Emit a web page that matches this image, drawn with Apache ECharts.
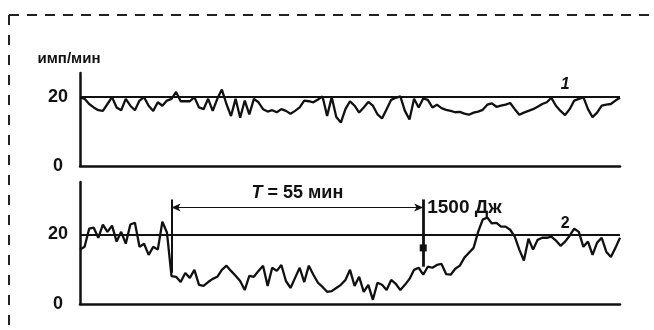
<!DOCTYPE html>
<html>
<head>
<meta charset="utf-8">
<script src="https://cdn.jsdelivr.net/npm/echarts@6/dist/echarts.min.js"></script>
<style>
  html, body { margin: 0; padding: 0; background: #fff; }
  #chart { width: 654px; height: 330px; }
</style>
</head>
<body>
<div id="chart"></div>
<script>
// Count rate records (pulses per minute), one sample per minute
const recordMinutes = 118;
const rate1 = [
  20, 19.5, 18, 17, 16.2, 16, 18, 20, 17, 16.2,
  19.5, 17.5, 16.2, 19, 20, 17.5, 16, 18.5, 17.5, 19,
  19.5, 21.5, 18.8, 18.8, 18.8, 20, 17, 16.5, 19.5, 16,
  19.5, 22.2, 18, 14.5, 19.5, 14, 19, 15, 19.5, 18.5,
  16.5, 15.8, 16.2, 15.6, 16.5, 16, 15.2, 16, 17, 19,
  18.8, 18.5, 19.3, 20.2, 14.5, 20, 14.2, 12.6, 16.5, 18.8,
  17.5, 15.5, 17, 18.6, 17.5, 15, 13.8, 16.5, 19.2, 19.8,
  20.2, 16, 13.5, 19.5, 17, 19.6, 19.2, 17, 17.8, 16.8,
  16.3, 16, 15.6, 15.7, 15.2, 14.9, 15.5, 15.8, 16.3, 17.8,
  18.2, 17.2, 17.5, 17.8, 18.3, 16.5, 14.9, 15.5, 16, 16.5,
  17.2, 18, 18.5, 19.8, 17.5, 16, 14.8, 16.5, 19, 19.5,
  20, 16.5, 14.2, 15.5, 17.5, 17.8, 18, 19, 19.8
];
const rate2 = [
  15.6, 16.4, 21.6, 21.9, 19.0, 22.8, 20.7, 22.5, 17.9, 20.7,
  17.3, 22.8, 23.3, 16.4, 17.3, 14.1, 16.4, 15.6, 23.6, 20.5,
  8, 7.8, 6.3, 8.9, 7.5, 9.8, 5.5, 5.2, 6.3, 7.2,
  7.8, 9.8, 11.0, 9.5, 8.1, 6.6, 4.0, 8.1, 7.8, 9.5,
  11.0, 5.2, 10.4, 9.5, 11.2, 6.6, 4.6, 7.5, 10.4, 6.3,
  11.0, 8.4, 6.1, 4.9, 3.5, 3.7, 4.6, 5.5, 6.9, 9.8,
  5.2, 7.8, 3.5, 5.5, 1.2, 6.1, 5.5, 4.0, 6.9, 5.8,
  4.0, 5.5, 7.2, 9.8, 10.4, 8.4, 10.7, 10.4, 11.2, 11.5,
  8.6, 8.4, 10.1, 11.0, 13.3, 14.7, 16.1, 20.7, 24.2, 24.8,
  23.1, 23.3, 22.2, 22.2, 21.3, 19.3, 15.6, 12.5, 18.7, 15.6,
  18.4, 19.0, 19.0, 19.3, 18.2, 16.7, 17.9, 19.6, 21.6, 20.7,
  16.4, 17.9, 14.1, 17.6, 19.0, 15.0, 13.5, 16.1, 19.0
];
const yTicks = [0, 20];
const baseline = 20;
const yMax1 = 27;
const yMax2 = 35;
const unitName = 'имп/мин';

// Exposure on record 2
const exposureStart = 20;        // min
const exposureLength = 55;       // min
const exposureEnergy = 1500;     // J
const exposureBarTop = 30;
const exposureBarEnd = 10.7;
const startBarEnd = 9;
const arrowLevel = 27.7;
const squareLevel = 16.1;
const labelLevel = 31.8;

// Curve numbers
const curveLabels = ['1', '2'];
const curveLabelAt = [[106, 23.5], [106, 23.2]];

const ink = '#111';
const font = '"Liberation Sans", Arial, sans-serif';
const exposureEnd = exposureStart + exposureLength;

const chart = echarts.init(document.getElementById('chart'), null, { renderer: 'canvas' });

function xAxisDef(gridIndex) {
  return {
    gridIndex, type: 'value', min: 0, max: recordMinutes,
    axisLine: { show: true, lineStyle: { color: ink, width: 2.5 } },
    axisTick: { show: false }, axisLabel: { show: false }, splitLine: { show: false }
  };
}
function yAxisDef(gridIndex, max, name) {
  return {
    gridIndex, type: 'value', min: 0, max,
    name: name || '',
    nameLocation: 'end', nameGap: 7,
    nameTextStyle: {
      color: ink, fontFamily: font, fontSize: 15, fontWeight: 'bold',
      align: 'center', padding: [0, 22, 0, 0]
    },
    axisLine: { show: true, lineStyle: { color: ink, width: 2.5 } },
    axisTick: { show: false },
    splitLine: { show: false },
    axisLabel: {
      customValues: yTicks, margin: 22, align: 'center',
      color: ink, fontFamily: font, fontSize: 18, fontWeight: 'bold'
    }
  };
}
const plainLine = { color: ink, width: 2, type: 'solid' };
const textStyle = { color: ink, fontFamily: font, fontSize: 18 };

chart.setOption({
  animation: false,
  backgroundColor: '#fff',
  grid: [
    { left: 80, top: 73, width: 540, height: 93 },
    { left: 80, top: 182, width: 540, height: 122 }
  ],
  xAxis: [xAxisDef(0), xAxisDef(1)],
  yAxis: [yAxisDef(0, yMax1, unitName), yAxisDef(1, yMax2)],
  graphic: [
    { type: 'line', shape: { x1: 9, y1: 15, x2: 654, y2: 15 },
      style: { stroke: '#222', lineWidth: 2, lineDash: [10, 8] } },
    { type: 'line', shape: { x1: 9, y1: 15, x2: 9, y2: 330 },
      style: { stroke: '#222', lineWidth: 2, lineDash: [10, 10] } }
  ],
  series: [
    {
      type: 'line', xAxisIndex: 0, yAxisIndex: 0,
      data: rate1.map((v, i) => [i, v]),
      symbol: 'none', lineStyle: { color: ink, width: 2.3 },
      markLine: {
        silent: true, symbol: 'none', label: { show: false },
        lineStyle: plainLine,
        data: [{ yAxis: baseline }]
      },
      markPoint: {
        silent: true,
        data: [{
          coord: curveLabelAt[0], symbolSize: 0,
          label: { show: true, formatter: curveLabels[0], ...textStyle, fontSize: 16, fontStyle: 'italic', fontWeight: 'bold' }
        }]
      }
    },
    {
      type: 'line', xAxisIndex: 1, yAxisIndex: 1,
      data: rate2.map((v, i) => [i, v]),
      symbol: 'none', lineStyle: { color: ink, width: 2.3 },
      markLine: {
        silent: true, symbol: 'none', label: { show: false },
        lineStyle: plainLine,
        data: [
          { yAxis: baseline },
          [{ coord: [exposureStart, exposureBarTop] }, { coord: [exposureStart, startBarEnd] }],
          [{ coord: [exposureEnd, exposureBarTop], lineStyle: { width: 2.8 } },
           { coord: [exposureEnd, exposureBarEnd] }],
          [{ coord: [exposureStart, arrowLevel], symbol: 'arrow', symbolSize: [6, 9], lineStyle: { width: 1.2 } },
           { coord: [exposureEnd, arrowLevel], symbol: 'arrow', symbolSize: [6, 9] }]
        ]
      },
      markPoint: {
        silent: true,
        data: [
          { coord: [exposureEnd, squareLevel], symbol: 'rect', symbolSize: 7,
            itemStyle: { color: ink }, label: { show: false } },
          { coord: [(exposureStart + exposureEnd) / 2, labelLevel], symbolSize: 0,
            label: { show: true, formatter: '{i|T} = ' + exposureLength + ' мин', ...textStyle, fontWeight: 'bold',
              rich: { i: { fontStyle: 'italic', fontWeight: 'bold', fontFamily: font, fontSize: 18, color: ink } } } },
          { coord: [exposureEnd, arrowLevel], symbolSize: 0,
            label: { show: true, position: 'right', distance: 4, formatter: exposureEnergy + ' Дж', ...textStyle, fontSize: 19, fontWeight: 'bold' } },
          { coord: curveLabelAt[1], symbolSize: 0,
            label: { show: true, formatter: curveLabels[1], ...textStyle, fontSize: 16, fontWeight: 'bold' } }
        ]
      }
    }
  ]
});
</script>
</body>
</html>
